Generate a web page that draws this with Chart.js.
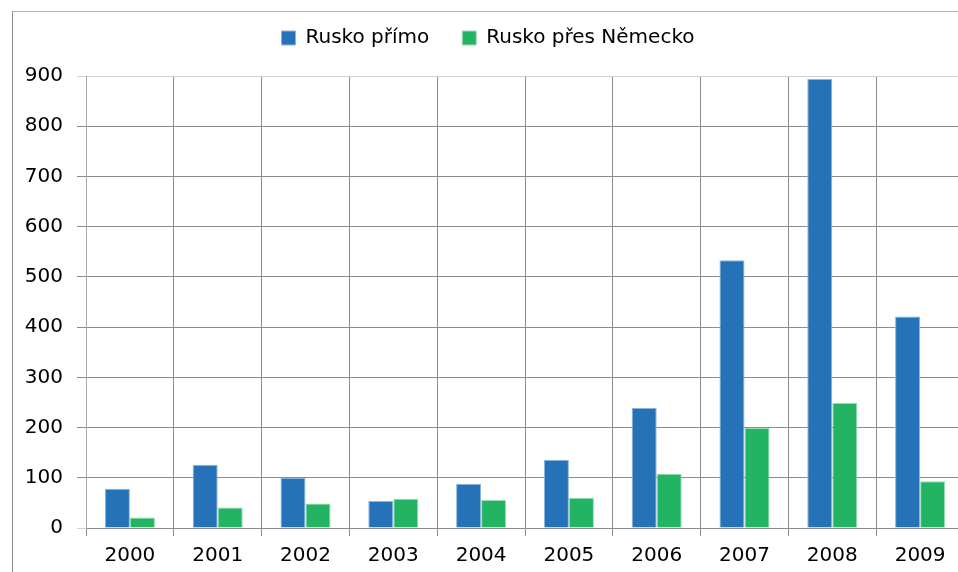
<!DOCTYPE html>
<html>
<head>
<meta charset="utf-8">
<script src="https://cdn.jsdelivr.net/npm/chart.js@4"></script>
<style>
  html, body { margin: 0; padding: 0; background: #fff; overflow: hidden; }
  #wrap { position: absolute; left: 0; top: 0; width: 964px; height: 576px; }
  #frame { position: absolute; left: 12px; top: 11px; width: 990px; height: 600px;
           border-left: 1px solid #8a8a8a; border-top: 1px solid #b4b4b4; pointer-events: none; }
</style>
</head>
<body>
<div id="frame"></div>
<div id="wrap"><canvas id="chart"></canvas></div>
<script>
// roky a hodnoty
const years = ['2000', '2001', '2002', '2003', '2004', '2005', '2006', '2007', '2008', '2009'];
const ruskoPrimo = [78, 126, 100, 54, 88, 136, 239, 533, 894, 421];
const ruskoPresNemecko = [21, 41, 49, 58, 56, 60, 108, 199, 249, 93];
const yTicks = [0, 100, 200, 300, 400, 500, 600, 700, 800, 900];

const font = { family: '"DejaVu Sans", sans-serif', size: 20 };

// legenda je v originále výš nad grafem
const legendShift = {
    id: 'legendShift',
    afterLayout(chart) {
        chart.legend.top -= 18;
        chart.legend.bottom -= 18;
    }
};

new Chart(document.getElementById('chart'), {
    type: 'bar',
    data: {
        labels: years,
        datasets: [{
            label: 'Rusko přímo',
            data: ruskoPrimo,
            backgroundColor: '#2672b8',
            borderColor: '#8db4dc',
            borderWidth: 1
        }, {
            label: 'Rusko přes Německo',
            data: ruskoPresNemecko,
            backgroundColor: '#22b463',
            borderColor: '#9adcb6',
            borderWidth: 1
        }]
    },
    options: {
        responsive: true,
        maintainAspectRatio: false,
        animation: false,
        layout: { padding: { left: 12, top: 0, right: 0, bottom: 0 } },
        datasets: { bar: { categoryPercentage: 0.57, barPercentage: 1 } },
        plugins: {
            tooltip: { enabled: false },
            legend: {
                position: 'top',
                labels: {
                    font: font,
                    color: '#000',
                    boxWidth: 14,
                    boxHeight: 14,
                    padding: 33
                }
            }
        },
        scales: {
            x: {
                grid: { color: '#8c8c8c', offset: true, tickLength: 8 },
                border: { color: '#8c8c8c' },
                ticks: { font: font, color: '#000', padding: 8 }
            },
            y: {
                min: 0,
                max: 900,
                afterFit: function(scale) { scale.width = 74; scale.paddingTop = 76; },
                afterBuildTicks: function(scale) { scale.ticks = yTicks.map(v => ({ value: v })); },
                grid: {
                    color: ctx => (ctx.tick && (ctx.tick.value === 900 || ctx.tick.value === 0)) ? '#d2d2d2' : '#8c8c8c',
                    tickLength: 9
                },
                border: { color: '#a8a8a8' },
                ticks: { font: font, color: '#000', padding: 14 }
            }
        }
    },
    plugins: [legendShift]
});
</script>
</body>
</html>
